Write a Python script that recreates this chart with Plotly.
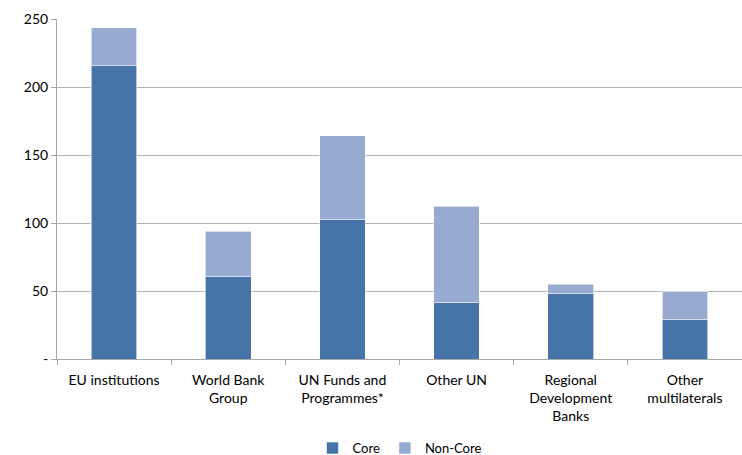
import plotly.graph_objects as go

categories = ["EU institutions", "World Bank<br>Group", "UN Funds and<br>Programmes*",
              "Other UN", "Regional<br>Development<br>Banks", "Other<br>multilaterals"]
core = [215.5, 60.5, 102.5, 41.5, 48, 29]
total = [243.5, 94, 164, 112.5, 55, 50]
non_core = [t - c for t, c in zip(total, core)]

fig = go.Figure()
fig.add_trace(go.Bar(x=categories, y=core, name="Core", marker_color="#4674A8",
                     marker_line=dict(color="#FFFFFF", width=0.6)))
fig.add_trace(go.Bar(x=categories, y=non_core, name="Non-Core", marker_color="#97AAD0",
                     marker_line=dict(color="#FFFFFF", width=0.6)))

fig.update_layout(
    barmode="stack",
    bargap=0.6,
    width=742, height=455,
    margin=dict(l=57, r=0, t=19, b=96, autoexpand=False),
    plot_bgcolor="white", paper_bgcolor="white",
    font=dict(family="Lato, sans-serif", size=14, color="#000000"),
    legend=dict(orientation="h", x=0.5, xanchor="center", y=-0.262, yanchor="middle",
                font=dict(size=13), traceorder="normal", itemwidth=30, tracegroupgap=0),
    showlegend=True,
)
fig.update_xaxes(showline=True, linecolor="#A6A6A6", linewidth=1, ticks="outside",
                 tickson="boundaries", ticklen=5, tickcolor="#A6A6A6", showgrid=False,
                 automargin=False, ticklabelstandoff=8)
fig.update_yaxes(range=[0, 250], tickvals=[0, 50, 100, 150, 200, 250],
                 ticktext=["-", "50", "100", "150", "200", "250"],
                 showgrid=True, gridcolor="#B4B4B4", gridwidth=1,
                 showline=True, linecolor="#A6A6A6", linewidth=1,
                 ticks="outside", ticklen=5, tickcolor="#A6A6A6", zeroline=False,
                 automargin=False)

fig.write_html("out.html")
